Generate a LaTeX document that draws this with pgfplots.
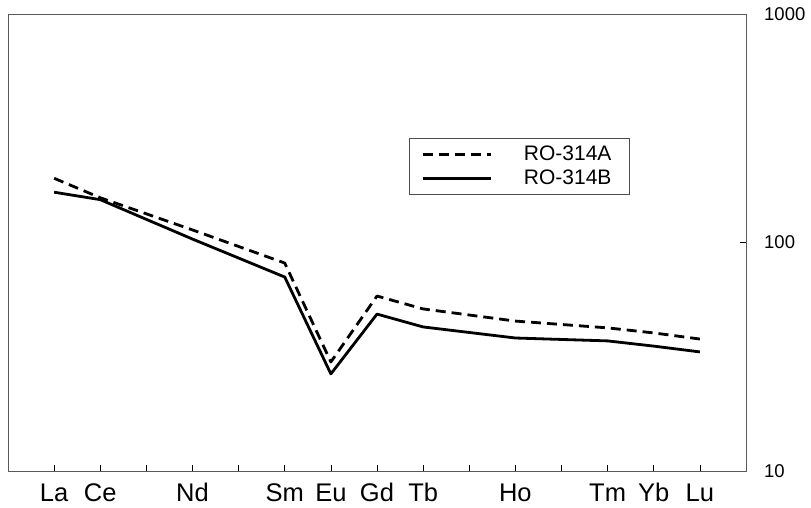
\documentclass[border=0pt]{standalone}
\usepackage{fontspec}
\setmainfont{Liberation Sans}
\usepackage{pgfplots}
\pgfplotsset{compat=1.18}
\begin{document}
\begin{tikzpicture}
\begin{axis}[
  scale only axis, width=738pt, height=457pt,
  ymode=log, ymin=10, ymax=1000,
  xmin=-1, xmax=15,
  xtick={0,...,14},
  xticklabels={La,Ce,,Nd,,Sm,Eu,Gd,Tb,,Ho,,Tm,Yb,Lu},
  ytick={10,100,1000},
  yticklabels={10,100,1000},
  yminorticks=false,
  xtick pos=bottom, ytick pos=right,
  tick align=inside,
  major tick length=6pt,
  tick style={black, line width=0.6pt},
  axis line style={black!65, line width=0.8pt},
  /pgf/number format/assume math mode=true,
  xticklabel style={font=\fontsize{25.5}{30}\selectfont, inner sep=0pt, anchor=north, text height=19pt, text depth=0pt, yshift=-11pt},
  yticklabel style={font=\fontsize{18.5}{22}\selectfont, inner sep=0pt, anchor=west, text height=13pt, text depth=0pt, xshift=18pt},
  legend style={at={(0.543,0.729)}, anchor=north west, draw=black!70, line width=0.8pt,
    inner xsep=12pt, inner ysep=5pt, row sep=2pt,
    font=\fontsize{21}{24}\selectfont,
    nodes={inner xsep=6pt, inner ysep=3pt, text height=14pt, text depth=2pt},
    cells={anchor=west}},
  legend image code/.code={\draw[#1] (0pt,0pt) -- (68pt,0pt); \path (94pt,0pt);},
]
\addplot[black, line width=2.8pt, line join=round, dash pattern=on 10pt off 6pt] coordinates {
(0,191) (1,157) (3,113.5) (5,81.3) (6,30.0) (7,58.3) (8,51.2) (10,45.3) (12,42.3) (13,40.2) (14,37.8)
};
\addlegendentry{RO-314A}
\addplot[black, line width=2.8pt, line join=round, solid] coordinates {
(0,166) (1,154) (3,103.5) (5,70.6) (6,26.6) (7,48.6) (8,42.7) (10,38.2) (12,37.1) (13,35.2) (14,33.2)
};
\addlegendentry{RO-314B}
\coordinate (sw) at (rel axis cs:0,0);
\coordinate (ne) at (rel axis cs:1,1);
\end{axis}
\pgfresetboundingbox
\path[use as bounding box] ([shift={(-8pt,-37pt)}]sw) rectangle ([shift={(65pt,14pt)}]ne);
\end{tikzpicture}
\end{document}
